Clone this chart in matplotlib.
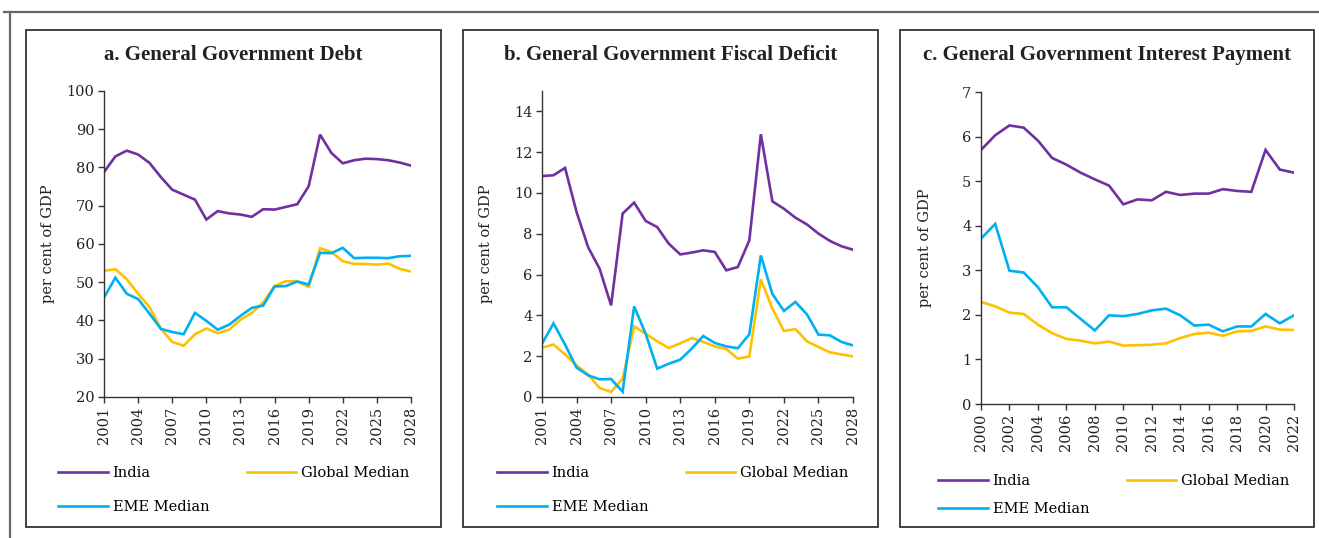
import matplotlib.pyplot as plt
from matplotlib.patches import Rectangle
from matplotlib.lines import Line2D

# Years
years_ab = list(range(2001, 2029))
years_c = list(range(2000, 2023))

# a. General Government Debt (per cent of GDP)
debt_india = [78.8, 82.9, 84.4, 83.4, 81.2, 77.5, 74.2, 72.9, 71.6, 66.4,
              68.6, 68.0, 67.7, 67.1, 69.1, 69.0, 69.7, 70.4, 75.1, 88.6,
              83.8, 81.1, 81.9, 82.3, 82.2, 81.9, 81.3, 80.5]
debt_global = [53.0, 53.4, 50.8, 47.0, 43.5, 37.9, 34.4, 33.4, 36.4, 37.9,
               36.7, 37.6, 40.2, 42.0, 44.7, 49.0, 50.3, 50.2, 48.8, 58.9,
               57.9, 55.5, 54.8, 54.8, 54.6, 54.9, 53.5, 52.8]
debt_eme = [46.0, 51.2, 47.0, 45.6, 41.8, 37.8, 37.0, 36.4, 42.0, 39.9,
            37.6, 38.9, 41.2, 43.3, 43.9, 48.9, 49.0, 50.2, 49.4, 57.7,
            57.6, 59.0, 56.3, 56.4, 56.4, 56.3, 56.8, 56.9]

# b. General Government Fiscal Deficit
def_india = [10.83, 10.87, 11.23, 9.07, 7.35, 6.29, 4.49, 8.99, 9.53, 8.63,
             8.33, 7.52, 6.99, 7.08, 7.19, 7.11, 6.21, 6.37, 7.68, 12.88,
             9.59, 9.23, 8.79, 8.46, 8.01, 7.65, 7.39, 7.22]
def_global = [2.42, 2.57, 2.09, 1.55, 1.11, 0.44, 0.25, 0.90, 3.46, 3.10,
              2.73, 2.40, 2.63, 2.89, 2.70, 2.48, 2.35, 1.88, 1.99, 5.77,
              4.33, 3.24, 3.33, 2.73, 2.45, 2.19, 2.09, 1.99]
def_eme = [2.61, 3.61, 2.57, 1.44, 1.06, 0.87, 0.88, 0.26, 4.44, 3.10,
           1.39, 1.63, 1.83, 2.37, 2.99, 2.65, 2.48, 2.39, 3.07, 6.94,
           5.05, 4.22, 4.66, 4.05, 3.06, 3.02, 2.70, 2.53]

# c. General Government Interest Payment
int_india = [5.70, 6.03, 6.25, 6.20, 5.91, 5.52, 5.37, 5.19, 5.04, 4.90,
             4.48, 4.59, 4.57, 4.76, 4.69, 4.72, 4.72, 4.82, 4.78, 4.76,
             5.70, 5.26, 5.19]
int_global = [2.29, 2.19, 2.05, 2.02, 1.78, 1.59, 1.46, 1.42, 1.36, 1.40,
              1.31, 1.32, 1.33, 1.36, 1.48, 1.57, 1.60, 1.53, 1.63, 1.64,
              1.74, 1.67, 1.66]
int_eme = [3.71, 4.04, 2.99, 2.95, 2.62, 2.17, 2.17, 1.91, 1.65, 1.99,
           1.97, 2.02, 2.10, 2.14, 1.99, 1.76, 1.78, 1.63, 1.74, 1.74,
           2.02, 1.81, 1.99]

titles = ["a. General Government Debt",
          "b. General Government Fiscal Deficit",
          "c. General Government Interest Payment"]
series_names = ["India", "Global Median", "EME Median"]
colors = {"India": "#7030A0", "Global Median": "#FFC000", "EME Median": "#00B0F0"}

W, H = 1319, 538
fig = plt.figure(figsize=(W / 100, H / 100), dpi=100)

def fx(px):
    return px / W

def fy(py):
    return 1 - py / H

# outer frame (top and left edges)
fig.add_artist(Line2D([fx(4), fx(W)], [fy(12), fy(12)], color="#666666", lw=1.6))
fig.add_artist(Line2D([fx(10), fx(10)], [fy(12), fy(H)], color="#666666", lw=1.6))

# panel boxes: left, right px
panels = [(26, 441), (463, 878), (900, 1314)]
for l, r in panels:
    fig.add_artist(Rectangle((fx(l), fy(527)), fx(r - l), (527 - 30) / H,
                             fill=False, edgecolor="#333333", lw=1.3,
                             transform=fig.transFigure))

# axes placements in px: left, right, top, bottom
ax_px = [(104, 411, 91, 397), (542, 853, 91, 397), (981, 1294, 92, 404)]
data = [
    (years_ab, [debt_india, debt_global, debt_eme], (20, 100), range(20, 101, 10), range(2001, 2029, 3)),
    (years_ab, [def_india, def_global, def_eme], (0, 15), range(0, 15, 2), range(2001, 2029, 3)),
    (years_c, [int_india, int_global, int_eme], (0, 7), range(0, 8, 1), range(2000, 2023, 2)),
]
# legend top-left in px and row spacing
legend_pos = [(58, 466, 1.35), (497, 466, 1.35), (938, 474, 0.95)]

serif = "DejaVu Serif"
for i, ((l, r, t, b), (yrs, vals, ylim, yt, xt)) in enumerate(zip(ax_px, data)):
    ax = fig.add_axes([fx(l), fy(b), fx(r - l), (b - t) / H])
    for name, v in zip(series_names, vals):
        ax.plot(yrs, v, color=colors[name], lw=1.9, label=name, solid_joinstyle="miter")
    ax.set_xlim(yrs[0], yrs[-1])
    ax.set_ylim(*ylim)
    ax.set_yticks(list(yt))
    ax.set_xticks(list(xt))
    ax.set_xticklabels([str(x) for x in xt], rotation=90, fontfamily=serif, fontsize=10.5)
    for lab in ax.get_yticklabels():
        lab.set_fontfamily(serif)
        lab.set_fontsize(10.5)
    for s in ["top", "right"]:
        ax.spines[s].set_visible(False)
    for s in ["left", "bottom"]:
        ax.spines[s].set_color("#333333")
        ax.spines[s].set_linewidth(1.0)
    ax.tick_params(length=4, width=1.0, color="#333333", labelcolor="#222222", pad=3)
    ax.set_ylabel("per cent of GDP", fontfamily=serif, fontsize=10.5, color="#222222")
    ax.yaxis.set_label_coords(fx(l - 49), fy((t + b) / 2), transform=fig.transFigure)
    pl, pr = panels[i]
    fig.text(fx((pl + pr) / 2), fy(55), titles[i], ha="center", va="center",
             fontfamily="Liberation Serif", fontweight="bold", fontsize=15, color="#222222")
    h, labs = ax.get_legend_handles_labels()
    order = [0, 2, 1]
    lx, ly, sp = legend_pos[i]
    ax.legend([h[k] for k in order], [labs[k] for k in order], ncol=2,
              loc="upper left", bbox_to_anchor=(fx(lx), fy(ly)),
              bbox_transform=fig.transFigure, frameon=False, borderpad=0,
              borderaxespad=0, handlelength=3.4, handletextpad=0.35,
              columnspacing=2.55, labelspacing=sp,
              prop={"family": serif, "size": 10.5})

fig.savefig("out.png", dpi=100)
